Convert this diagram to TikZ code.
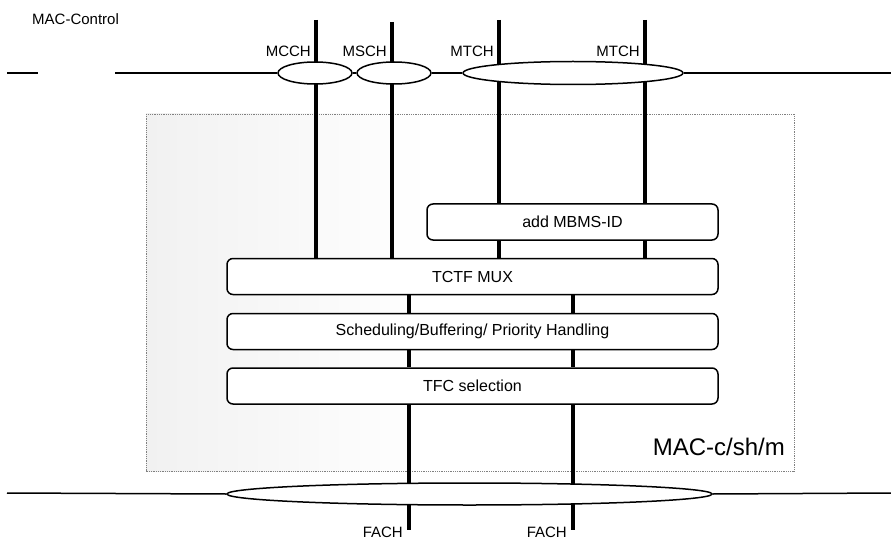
\documentclass[tikz,border=0pt]{standalone}
\usepackage{fontspec}
\setmainfont{Liberation Sans}
\usetikzlibrary{shapes.geometric,positioning,backgrounds}
\tikzset{
  block/.style={draw,line width=1.5pt,rounded corners=6pt,fill=white,inner sep=0pt,
    minimum height=36,font=\fontsize{16}{18}\selectfont},
  bus/.style={draw,ellipse,line width=1.5pt,fill=white,inner sep=0pt,minimum height=22},
  wire/.style={line width=1.5pt},
  chan/.style={line width=4.5pt},
  chlabel/.style={anchor=base east,inner sep=0pt,font=\fontsize{15}{17}\selectfont}
}

\begin{document}
\begin{tikzpicture}[x=1pt,y=-1pt]
  \useasboundingbox (0,0) rectangle (891,540);
  \node[anchor=base west,inner sep=0pt,font=\fontsize{15}{17}\selectfont] (ctrl) at (32,25) {MAC-Control};
  % blocks of the MAC entity
  \node[block,minimum width=291] (mbms) at (572.5,222) {add MBMS-ID};
  \node[block,minimum width=491] (mux) at (472.5,276.5) {TCTF MUX};
  \node[block,minimum width=491] (sched) at (472.5,331.5) {Scheduling/Buffering/ Priority Handling};
  \node[block,minimum width=491] (tfc) at (472.5,386) {TFC selection};
  \node[anchor=base east,inner sep=0pt,font=\fontsize{24}{28}\selectfont] (entity) at (785,455) {MAC-c/sh/m};
  % channel buses
  \node[bus,minimum width=74] (mcch) at (315,73) {};
  \node[bus,minimum width=74] (msch) at (394,73) {};
  \node[bus,minimum width=220,minimum height=23] (mtch) at (573,73) {};
  \node[bus,minimum width=485] (fach) at (469.5,494) {};
  \coordinate (topa) at (7,73);
  \coordinate (topb) at (38,73);
  \coordinate (topc) at (115,73);
  \coordinate (topd) at (891,73);
  \coordinate (bota) at (7,493);
  \coordinate (botb) at (891,493);
  \draw[wire] (topa) -- (topb);
  \draw[wire] (topc) -- (mcch.west);
  \draw[wire] (mcch.east) -- (msch.west);
  \draw[wire] (msch.east) -- (mtch.west);
  \draw[wire] (mtch.east) -- (topd);
  \draw[wire] (bota) -- (fach.west);
  \draw[wire] (fach.east) -- (botb);
  % logical and transport channels
  \coordinate (mcchtop) at (316,20);
  \coordinate (mschtop) at (392,22);
  \coordinate (mtchatop) at (499,20);
  \coordinate (mtchbtop) at (645,20);
  \coordinate (facha) at (409,530);
  \coordinate (fachb) at (573,530);
  \node[chlabel] (mcchlbl) at (311,57) {MCCH};
  \node[chlabel] (mschlbl) at (387,57) {MSCH};
  \node[chlabel] (mtchalbl) at (494,57) {MTCH};
  \node[chlabel] (mtchblbl) at (640,57) {MTCH};
  \node[chlabel] (fachalbl) at (403,537) {FACH};
  \node[chlabel] (fachblbl) at (567,537) {FACH};
  \begin{scope}[on background layer]
    \shade[left color=gray!11,right color=white] (146,114) rectangle (430,471);
    \draw[gray,densely dotted,line width=0.8pt] (146,114) rectangle (794,471);
    \draw[chan] (mcchtop) -- (mcchtop |- mux.north);
    \draw[chan] (mschtop) -- (mschtop |- mux.north);
    \draw[chan] (mtchatop) -- (mtchatop |- mbms.north);
    \draw[chan] (mtchbtop) -- (mtchbtop |- mbms.north);
    \draw[chan] (mtchatop |- mbms.south) -- (mtchatop |- mux.north);
    \draw[chan] (mtchbtop |- mbms.south) -- (mtchbtop |- mux.north);
    \foreach \c in {facha,fachb}{
      \draw[chan] (\c |- mux.south) -- (\c |- sched.north);
      \draw[chan] (\c |- sched.south) -- (\c |- tfc.north);
      \draw[chan] (\c |- tfc.south) -- (\c);
    }
  \end{scope}
\end{tikzpicture}
\end{document}
